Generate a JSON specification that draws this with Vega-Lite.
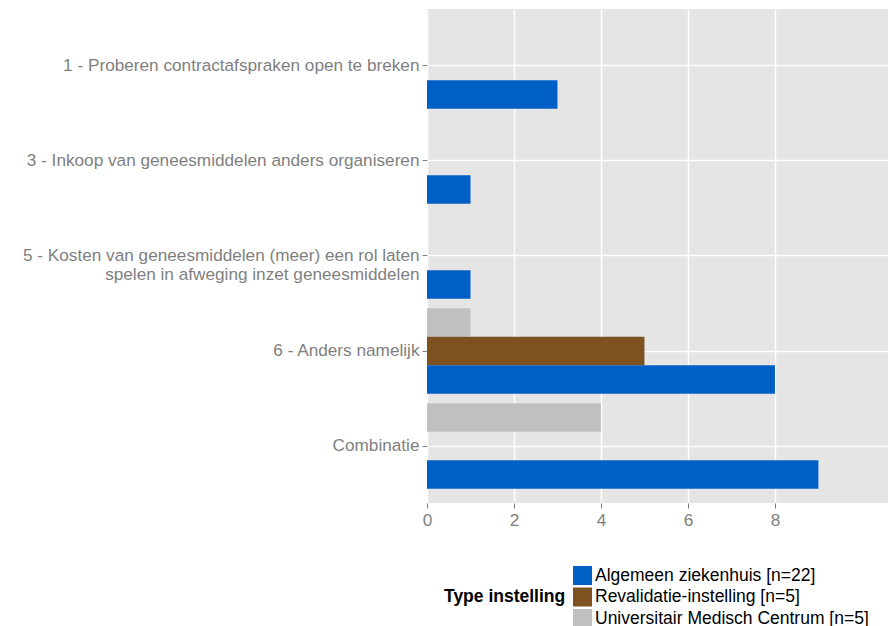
{
  "$schema": "https://vega.github.io/schema/vega-lite/v6.json",
  "autosize": "none",
  "width": 461,
  "height": 494,
  "padding": {"left": 427, "top": 9, "right": 0, "bottom": 123},
  "background": "white",
  "data": {
    "values": [
      {"cat": "1 - Proberen contractafspraken open te breken", "type": "Algemeen ziekenhuis [n=22]", "n": 3},
      {"cat": "3 - Inkoop van geneesmiddelen anders organiseren", "type": "Algemeen ziekenhuis [n=22]", "n": 1},
      {"cat": "5 - Kosten van geneesmiddelen (meer) een rol laten spelen in afweging inzet geneesmiddelen", "type": "Algemeen ziekenhuis [n=22]", "n": 1},
      {"cat": "6 - Anders namelijk", "type": "Universitair Medisch Centrum [n=5]", "n": 1},
      {"cat": "6 - Anders namelijk", "type": "Revalidatie-instelling [n=5]", "n": 5},
      {"cat": "6 - Anders namelijk", "type": "Algemeen ziekenhuis [n=22]", "n": 8},
      {"cat": "Combinatie", "type": "Universitair Medisch Centrum [n=5]", "n": 4},
      {"cat": "Combinatie", "type": "Algemeen ziekenhuis [n=22]", "n": 9}
    ]
  },
  "config": {
    "view": {"fill": "#E5E5E5", "stroke": null},
    "font": "Liberation Sans",
    "axis": {
      "domain": false,
      "gridColor": "white",
      "gridWidth": 1.5,
      "gridOpacity": 1,
      "tickColor": "#7F7F7F",
      "tickSize": 5,
      "labelColor": "#7F7F7F",
      "labelFontSize": 17.2,
      "labelFont": "Liberation Sans",
      "title": null
    }
  },
  "mark": {"type": "bar"},
  "encoding": {
    "y": {
      "field": "cat",
      "type": "nominal",
      "sort": [
        "1 - Proberen contractafspraken open te breken",
        "3 - Inkoop van geneesmiddelen anders organiseren",
        "5 - Kosten van geneesmiddelen (meer) een rol laten spelen in afweging inzet geneesmiddelen",
        "6 - Anders namelijk",
        "Combinatie"
      ],
      "scale": {"paddingInner": 0.1, "paddingOuter": 0.15},
      "axis": {
        "title": null,
        "grid": true,
        "labelPadding": 3,
        "labelLimit": 500,
        "labelLineHeight": 19,
        "labelExpr": "datum.value[0] == '5' ? ['5 - Kosten van geneesmiddelen (meer) een rol laten', 'spelen in afweging inzet geneesmiddelen'] : datum.value"
      }
    },
    "yOffset": {
      "field": "type",
      "type": "nominal",
      "scale": {
        "domain": ["Universitair Medisch Centrum [n=5]", "Revalidatie-instelling [n=5]", "Algemeen ziekenhuis [n=22]"],
        "paddingInner": 0,
        "paddingOuter": 0
      }
    },
    "x": {
      "field": "n",
      "type": "quantitative",
      "scale": {"domain": [0, 10.6], "nice": false, "zero": true},
      "axis": {"title": null, "values": [0, 2, 4, 6, 8], "grid": true, "labelPadding": 3, "labelFlush": false}
    },
    "color": {
      "field": "type",
      "type": "nominal",
      "scale": {
        "domain": ["Algemeen ziekenhuis [n=22]", "Revalidatie-instelling [n=5]", "Universitair Medisch Centrum [n=5]"],
        "range": ["#005FC4", "#7E5220", "#C0C0C0"]
      },
      "legend": {
        "title": "Type instelling",
        "orient": "none",
        "legendX": 17,
        "legendY": 557,
        "direction": "vertical",
        "titleOrient": "left",
        "titleAnchor": "middle",
        "titleBaseline": "middle",
        "titleFontSize": 17.5,
        "titleFontWeight": "bold",
        "titleColor": "black",
        "titlePadding": 7,
        "symbolType": "square",
        "symbolSize": 361,
        "symbolStrokeWidth": 0,
        "symbolOpacity": 1,
        "labelFontSize": 17.5,
        "labelColor": "black",
        "labelOffset": 3,
        "labelLimit": 400,
        "rowPadding": 2.5
      }
    }
  }
}
